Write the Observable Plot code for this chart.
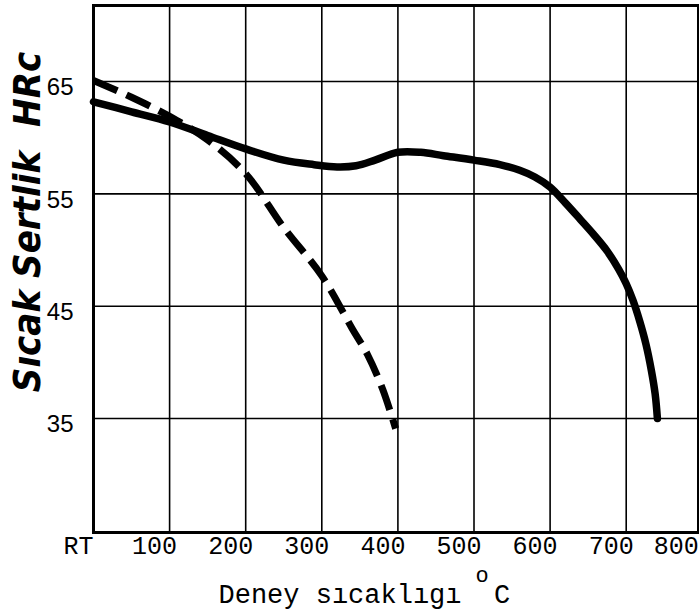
<!DOCTYPE html>
<html>
<head>
<meta charset="utf-8">
<script src="https://cdn.jsdelivr.net/npm/d3@7"></script>
<script src="https://cdn.jsdelivr.net/npm/@observablehq/plot@0.6"></script>
<style>
  html, body { margin: 0; padding: 0; background: #fff; }
  #chart svg { display: block; }
</style>
</head>
<body>
<div id="chart"></div>
<script>
// Tick values and labels
const xTicks = [0, 100, 200, 300, 400, 500, 600, 700, 800];
const xTickLabels = ["RT", "100", "200", "300", "400", "500", "600", "700", "800"];
const yTicks = [35, 45, 55, 65];

// Solid curve (temperature °C, hot hardness HRc)
const solidTemp = [0, 50, 100, 150, 200, 250, 290, 320, 345, 370, 400, 430, 460, 500, 534, 560, 580, 600, 620, 640, 657, 675, 690, 700, 709, 718, 726, 733, 738, 741];
const solidHRc  = [63.2, 62.3, 61.4, 60.2, 59.0, 58.0, 57.6, 57.4, 57.5, 58.0, 58.7, 58.7, 58.4, 58.0, 57.6, 57.1, 56.5, 55.6, 54.2, 52.7, 51.4, 49.9, 48.3, 47.0, 45.5, 43.6, 41.6, 39.3, 37.2, 35.0];

// Dashed curve
const dashedTemp = [0, 50, 100, 150, 200, 250, 300, 340, 360, 380, 397];
const dashedHRc  = [65.1, 63.6, 61.9, 59.8, 56.8, 52.0, 47.7, 43.0, 40.7, 37.6, 34.1];

// Titles
const yTitle = "Sıcak Sertlik  HRc";
const xTitle = "Deney sıcaklıgı";
const xUnit = "C";
const degreeMark = "o";

const solid = solidTemp.map((t, i) => ({t, h: solidHRc[i]}));
const dashed = dashedTemp.map((t, i) => ({t, h: dashedHRc[i]}));
const fmt = d => xTickLabels[xTicks.indexOf(d)];
const xAxisStyle = {tickSize: 0, tickPadding: 4, tickFormat: fmt, fontSize: 25, fontFamily: "Liberation Mono", fill: "#000", label: null};
const mono = {frameAnchor: "bottom", lineAnchor: "bottom", fontFamily: "Liberation Mono", fill: "#000"};

const chart = Plot.plot({
  width: 699,
  height: 612,
  marginLeft: 93,
  marginRight: 1,
  marginTop: 5,
  marginBottom: 80,
  x: {domain: [0, 795]},
  y: {domain: [24.85, 71.77]},
  style: {background: "#fff", color: "#000"},
  marks: [
    Plot.gridX(xTicks.filter(d => d > 0 && d < 795), {stroke: "#000", strokeOpacity: 1, strokeWidth: 1.6}),
    Plot.gridY(yTicks, {stroke: "#000", strokeOpacity: 1, strokeWidth: 1.6}),
    Plot.frame({stroke: "#000", strokeWidth: 3}),
    Plot.axisX(xTicks.filter(d => d < 795), {...xAxisStyle, dx: -15}),
    Plot.axisX(xTicks.filter(d => d > 795), {...xAxisStyle, dx: -26}),
    Plot.axisY(yTicks, {
      tickSize: 0, tickPadding: 20, dy: 6,
      fontSize: 24, fontFamily: "Liberation Sans", fill: "#000", label: null
    }),
    Plot.line(dashed, {x: "t", y: "h", curve: "catmull-rom", stroke: "#000", strokeWidth: 7, strokeDasharray: "26,10", strokeLinecap: "butt"}),
    Plot.line(solid, {x: "t", y: "h", curve: "catmull-rom", stroke: "#000", strokeWidth: 7.5, strokeLinecap: "round", strokeLinejoin: "round"}),
    Plot.text([yTitle], {
      frameAnchor: "left", rotate: -90, dx: -66, dy: -47,
      fontSize: 38, fontWeight: "bold", fontStyle: "italic",
      fontFamily: "DejaVu Sans Condensed", fill: "#000", textAnchor: "middle", lineAnchor: "middle"
    }),
    Plot.text([xTitle], {...mono, dx: -56, dy: 70, fontSize: 27}),
    Plot.text([xUnit], {...mono, dx: 106, dy: 70, fontSize: 27}),
    Plot.text([degreeMark], {...mono, dx: 86, dy: 49, fontSize: 22})
  ]
});
document.getElementById("chart").appendChild(chart);
</script>
</body>
</html>
